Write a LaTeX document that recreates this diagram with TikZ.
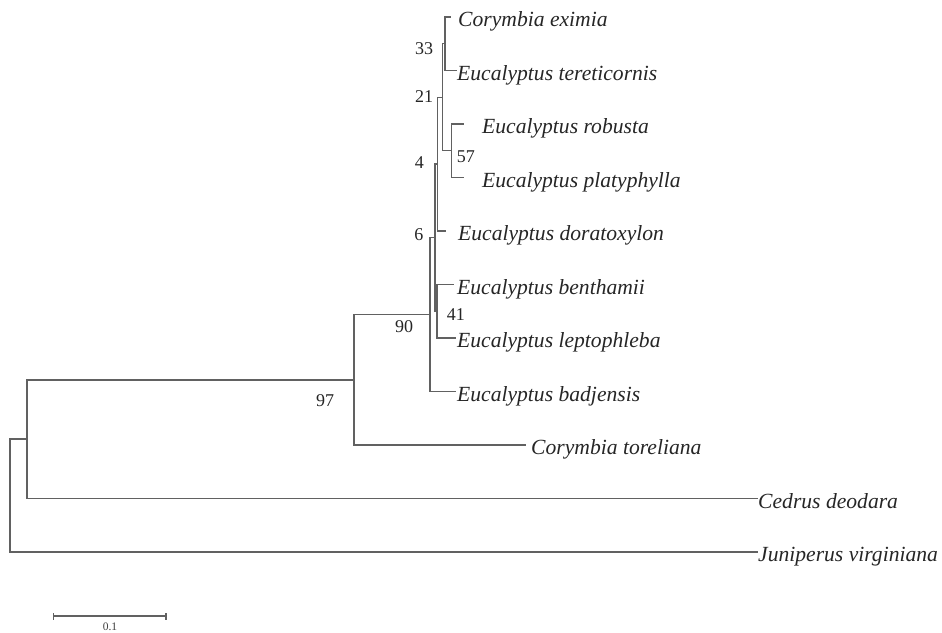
\documentclass[tikz,border=0pt]{standalone}
\usepackage{fontspec}
\setmainfont{Liberation Serif}
\begin{document}
\begin{tikzpicture}[x=1pt,y=-1pt,
  branch/.style={draw=black!62, line width=1.45pt, line cap=rect},
  taxon/.style={anchor=base west, inner sep=0pt, text=black!85, font=\fontsize{21.6}{24}\selectfont\itshape},
  bootl/.style={anchor=base east, inner sep=0pt, text=black!85, font=\fontsize{18}{20}\selectfont},
  bootr/.style={anchor=base west, inner sep=0pt, text=black!85, font=\fontsize{18}{20}\selectfont}]
\useasboundingbox (0,0) rectangle (942,632);
\fill[white] (0,0) rectangle (942,632);
% internal nodes
\coordinate (root) at (10,495.3);
\coordinate (nA) at (27,439.1);
\coordinate (n97) at (354,379.8);
\coordinate (n90) at (430,314.6);
\coordinate (n6) at (435,237.7);
\coordinate (n4) at (437.5,164.1);
\coordinate (n41) at (437,311.25);
\coordinate (n21) at (442.5,97.25);
\coordinate (n33) at (445,43.75);
\coordinate (n57) at (451.5,150.75);
% leaf ends
\coordinate (eex) at (450,17);
\coordinate (eter) at (456,70.5);
\coordinate (erob) at (463,124);
\coordinate (epla) at (463,177.5);
\coordinate (edor) at (445,231);
\coordinate (eben) at (453,284.5);
\coordinate (elep) at (455,338);
\coordinate (ebad) at (455,391.5);
\coordinate (etor) at (525,445);
\coordinate (eced) at (757,498.5);
\coordinate (ejun) at (757,552);
% branches
\draw[branch] (root) |- (nA);
\draw[branch] (root) |- (ejun);
\draw[branch] (nA) |- (n97);
\draw[branch] (nA) |- (eced);
\draw[branch] (n97) |- (n90);
\draw[branch] (n97) |- (etor);
\draw[branch] (n90) |- (n6);
\draw[branch] (n90) |- (ebad);
\draw[branch] (n6) |- (n4);
\draw[branch] (n6) |- (n41);
\draw[branch] (n41) |- (eben);
\draw[branch] (n41) |- (elep);
\draw[branch] (n4) |- (n21);
\draw[branch] (n4) |- (edor);
\draw[branch] (n21) |- (n33);
\draw[branch] (n21) |- (n57);
\draw[branch] (n33) |- (eex);
\draw[branch] (n33) |- (eter);
\draw[branch] (n57) |- (erob);
\draw[branch] (n57) |- (epla);
% taxa
\node[taxon] (tex) at (458,26.8) {Corymbia eximia};
\node[taxon] (tter) at (457,80.3) {Eucalyptus tereticornis};
\node[taxon] (trob) at (482,133.8) {Eucalyptus robusta};
\node[taxon] (tpla) at (482,187.3) {Eucalyptus platyphylla};
\node[taxon] (tdor) at (458,240.8) {Eucalyptus doratoxylon};
\node[taxon] (tben) at (457,294.3) {Eucalyptus benthamii};
\node[taxon] (tlep) at (457,347.8) {Eucalyptus leptophleba};
\node[taxon] (tbad) at (457,401.3) {Eucalyptus badjensis};
\node[taxon] (ttor) at (531,454.8) {Corymbia toreliana};
\node[taxon] (tced) at (758,508.3) {Cedrus deodara};
\node[taxon] (tjun) at (758,561.8) {Juniperus virginiana};
% bootstrap values
\node[bootl] (b97) at (334.3,406.7) {97};
\node[bootl] (b90) at (413.3,332.7) {90};
\node[bootl] (b6) at (423.5,240.7) {6};
\node[bootr] (b41) at (446.7,320) {41};
\node[bootl] (b33) at (433.3,54) {33};
\node[bootl] (b21) at (433.3,102.7) {21};
\node[bootl] (b4) at (424,168.3) {4};
\node[bootr] (b57) at (456.7,162.7) {57};
% scale bar
\coordinate (sbl) at (53.3,616);
\coordinate (sbr) at (166,616);
\draw[branch, line cap=butt] (sbl) -- (sbr);
\draw[branch, line cap=butt] ([yshift=-3.5pt]sbl) -- ([yshift=3.5pt]sbl);
\draw[branch, line cap=butt] ([yshift=-3.5pt]sbr) -- ([yshift=3.5pt]sbr);
\node[anchor=base, inner sep=0pt, text=black!75, font=\fontsize{11.5}{13}\selectfont] (sblab) at (110,630) {0.1};
\end{tikzpicture}
\end{document}
